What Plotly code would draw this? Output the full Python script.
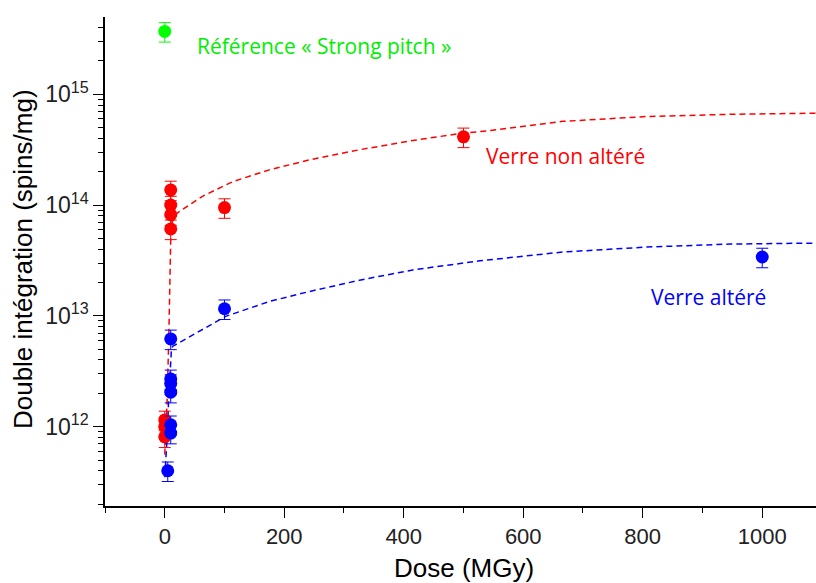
import plotly.graph_objects as go

# ---- data ----
red_dose = [0, 0, 0, 10, 10, 10, 10, 100, 500]
red_val = [1.15e12, 1.0e12, 8.1e11, 1.37e14, 1.0e14, 8.2e13, 6.1e13, 9.5e13, 4.13e14]

blue_dose = [5, 10, 10, 10, 10, 10, 10, 100, 1000]
blue_val = [4.0e11, 8.75e11, 1.04e12, 2.05e12, 2.45e12, 2.7e12, 6.2e12, 1.16e13, 3.4e13]

green_dose = [0]
green_val = [3.7e15]

err_pct = 20

# fitted curves
red_fit_dose = [0, 1, 4, 6.7, 8.4, 10, 12.6, 21, 63, 114, 175, 242, 326, 415, 499, 541, 666, 806, 946, 1090]
red_fit_val = [5.6e11, 7.6e11, 1.75e12, 6.1e12, 1.7e13, 4.9e13, 7.1e13, 8.5e13, 1.2e14, 1.63e14,
               2.08e14, 2.56e14, 3.16e14, 3.83e14, 4.47e14, 4.68e14, 5.7e14, 6.3e14, 6.6e14, 6.76e14]

blue_fit_dose = [0, 4, 7, 9, 11, 13, 47, 102, 175, 242, 326, 415, 527, 666, 806, 946, 1090]
blue_fit_val = [3.5e11, 8e11, 2e12, 3.5e12, 4.8e12, 5.3e12, 6.7e12, 9.9e12, 1.35e13, 1.66e13,
                2.1e13, 2.6e13, 3.14e13, 3.77e13, 4.18e13, 4.45e13, 4.54e13]

y_tickvals = [1e12, 1e13, 1e14, 1e15]
y_ticktext = ["10<sup>12</sup>", "10<sup>13</sup>", "10<sup>14</sup>", "10<sup>15</sup>"]
x_tickvals = [0, 200, 400, 600, 800, 1000]
x_minor = [-100, 100, 300, 500, 700, 900]

RED = "#ff0000"
BLUE = "#0000ff"
GREEN = "#00ff00"

fig = go.Figure()

fig.add_trace(go.Scatter(x=red_fit_dose, y=red_fit_val, mode="lines",
                         line=dict(color=RED, width=1.5, dash="6px,4px"), hoverinfo="skip"))
fig.add_trace(go.Scatter(x=blue_fit_dose, y=blue_fit_val, mode="lines",
                         line=dict(color=BLUE, width=1.5, dash="6px,4px"), hoverinfo="skip"))


def pts(x, y, c):
    return go.Scatter(x=x, y=y, mode="markers",
                      marker=dict(color=c, size=13, line=dict(width=0)),
                      error_y=dict(type="percent", value=err_pct, color=c, thickness=1, width=6))


fig.add_trace(pts(red_dose, red_val, RED))
fig.add_trace(pts(blue_dose, blue_val, BLUE))
fig.add_trace(pts(green_dose, green_val, GREEN))

font_lbl = "'Open Sans', Lato, sans-serif"
fig.add_annotation(x=0.127, y=0.941, xref="paper", yref="paper", text="Référence « Strong pitch »",
                   showarrow=False, font=dict(family=font_lbl, size=21, color="#00ee00"),
                   xanchor="left", yanchor="middle")
fig.add_annotation(x=0.533, y=0.716, xref="paper", yref="paper", text="Verre non altéré",
                   showarrow=False, font=dict(family=font_lbl, size=21, color=RED),
                   xanchor="left", yanchor="middle")
fig.add_annotation(x=0.765, y=0.428, xref="paper", yref="paper", text="Verre altéré",
                   showarrow=False, font=dict(family=font_lbl, size=21, color=BLUE),
                   xanchor="left", yanchor="middle")
fig.add_annotation(x=0.505, y=-0.127, xref="paper", yref="paper", text="Dose (MGy)",
                   showarrow=False, font=dict(size=26, color="black"),
                   xanchor="center", yanchor="middle")
fig.add_annotation(x=-0.116, y=0.504, xref="paper", yref="paper", text="Double intégration (spins/mg)",
                   showarrow=False, font=dict(size=26, color="black"), textangle=-90,
                   xanchor="center", yanchor="middle")

fig.update_layout(
    width=816, height=583,
    margin=dict(l=105, r=0, t=17, b=77),
    paper_bgcolor="white", plot_bgcolor="white",
    showlegend=False,
    font=dict(family="Arial, 'Liberation Sans', sans-serif", color="black"),
)

fig.update_xaxes(
    range=[-100, 1090], tickvals=x_tickvals, ticks="outside", ticklen=10, tickwidth=1.2,
    tickcolor="black", showline=True, linecolor="black", linewidth=1.5, showgrid=False,
    zeroline=False, tickfont=dict(size=22, color="#222"),
    minor=dict(tickvals=x_minor, ticks="outside", ticklen=5,
               tickwidth=1.2, tickcolor="black", showgrid=False),
)
fig.update_yaxes(
    type="log", range=[11.284, 15.698], tickvals=y_tickvals, ticktext=y_ticktext,
    ticks="outside", ticklen=10, tickwidth=1.2, tickcolor="black", showline=True,
    linecolor="black", linewidth=1.5, showgrid=False, zeroline=False,
    tickfont=dict(size=23, color="#222"),
    minor=dict(ticks="outside", ticklen=5, tickwidth=1, tickcolor="black", showgrid=False,
               dtick="D1"),
)

fig.write_html("out.html",
               config={"displayModeBar": False},
               post_script="document.body.style.margin='0';document.body.style.padding='0';"
                           "document.documentElement.style.overflow='hidden';")
